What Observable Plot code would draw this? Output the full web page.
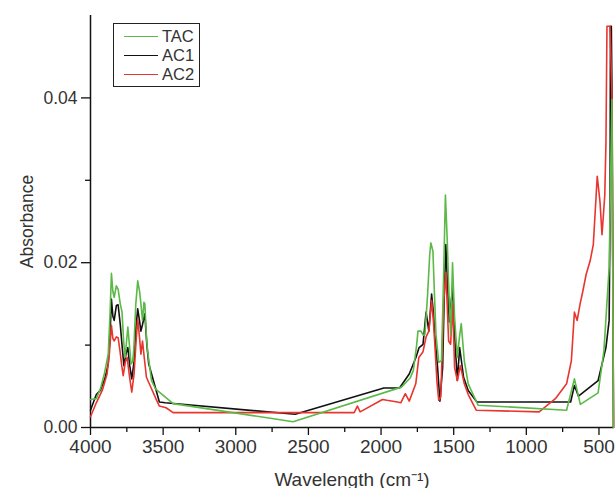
<!DOCTYPE html>
<html>
<head>
<meta charset="utf-8">
<script src="https://cdn.jsdelivr.net/npm/d3@7"></script>
<script src="https://cdn.jsdelivr.net/npm/@observablehq/plot@0.6"></script>
<style>
  html, body { margin: 0; padding: 0; background: #fff; }
  #wrap { position: relative; width: 615px; height: 488px; overflow: hidden; }
  #legend {
    position: absolute; left: 113px; top: 23px; width: 85px; height: 62px;
    border: 1.5px solid #222; background: #fff; box-sizing: content-box;
    font-family: "Liberation Sans", Arial, sans-serif; font-size: 16.5px; color: #333;
  }
  .row { position: absolute; left: 0; height: 19px; display: flex; align-items: center; }
  .sw { width: 34px; height: 0; border-top: 1.3px solid; margin-left: 10px; margin-right: 4px; }
</style>
</head>
<body>
<div id="wrap"></div>
<script>
const seriesNames = ["TAC", "AC1", "AC2"];
const seriesColors = ["#5bb947", "#111111", "#e8352e"];

const tacWave = [4000,3960,3930,3905,3878,3865,3856,3846,3837,3822,3810,3795,3783,3772,3762,3743,3732,3721,3710,3702,3688,3675,3662,3653,3642,3632,3626,3615,3607,3580,3553,3431,2605,1860,1800,1778,1755,1746,1725,1710,1698,1680,1665,1657,1643,1632,1622,1603,1584,1570,1557,1545,1535,1521,1508,1494,1475,1460,1448,1427,1400,1332,723,669,628,506,466,430,411,400];
const tacAbs  = [0.0034,0.0035,0.0048,0.0065,0.0089,0.0140,0.0187,0.0165,0.0158,0.0172,0.0168,0.0150,0.0140,0.0105,0.0085,0.0122,0.0100,0.0077,0.0080,0.0095,0.0150,0.0178,0.0165,0.0150,0.0130,0.0152,0.0150,0.0110,0.0093,0.0057,0.0047,0.0029,0.0007,0.0049,0.0060,0.0069,0.0100,0.0117,0.0117,0.0112,0.0113,0.0160,0.0210,0.0224,0.0214,0.0160,0.0113,0.0079,0.0081,0.0180,0.0282,0.0230,0.0174,0.0113,0.0200,0.0134,0.0085,0.0110,0.0126,0.0081,0.0053,0.0027,0.0021,0.0059,0.0028,0.0042,0.0093,0.0194,0.0398,0];

const ac1Wave = [4000,3960,3932,3900,3878,3866,3856,3846,3837,3822,3810,3795,3783,3770,3755,3743,3730,3716,3700,3688,3675,3663,3653,3642,3626,3612,3599,3567,3526,3485,2591,1998,1982,1873,1806,1760,1738,1711,1690,1671,1652,1640,1630,1611,1595,1576,1565,1554,1542,1530,1508,1494,1475,1459,1432,1400,1340,695,669,641,506,452,430,424,421,415,410,400];
const ac1Abs  = [0.0021,0.0040,0.0045,0.0060,0.0077,0.0110,0.0156,0.0135,0.0130,0.0148,0.0149,0.0125,0.0100,0.0075,0.0090,0.0097,0.0075,0.0059,0.0080,0.0120,0.0144,0.0130,0.0117,0.0125,0.0138,0.0100,0.0077,0.0057,0.0031,0.0030,0.0016,0.0047,0.0048,0.0048,0.0065,0.0085,0.0097,0.0101,0.0140,0.0117,0.0162,0.0140,0.0113,0.0073,0.0032,0.0073,0.0160,0.0222,0.0170,0.0128,0.0170,0.0113,0.0057,0.0097,0.0061,0.0045,0.0031,0.0031,0.0051,0.0038,0.0057,0.0097,0.0130,0.0250,0.0487,0.0487,0.0400,0];

const ac2Wave = [4000,3960,3919,3886,3870,3856,3846,3837,3822,3810,3797,3785,3775,3760,3748,3730,3716,3700,3688,3675,3663,3653,3642,3630,3615,3580,3550,3526,3480,3431,2185,2163,2144,1990,1960,1887,1864,1833,1806,1761,1740,1711,1690,1671,1652,1640,1630,1615,1603,1589,1568,1554,1545,1535,1521,1508,1500,1494,1475,1454,1427,1400,1345,912,800,723,690,669,650,630,615,588,561,539,520,512,493,479,460,452,445,424,410,400];
const ac2Abs  = [0.0013,0.0030,0.0045,0.0065,0.0090,0.0124,0.0108,0.0105,0.0110,0.0109,0.0093,0.0075,0.0063,0.0080,0.0085,0.0060,0.0043,0.0065,0.0100,0.0132,0.0110,0.0089,0.0105,0.0085,0.0061,0.0047,0.0035,0.0026,0.0024,0.0018,0.0018,0.0026,0.0019,0.0034,0.0033,0.0031,0.0030,0.0041,0.0032,0.0053,0.0085,0.0092,0.0110,0.0117,0.0154,0.0130,0.0101,0.0055,0.0033,0.0037,0.0154,0.0188,0.0150,0.0105,0.0101,0.0150,0.0110,0.0073,0.0057,0.0075,0.0053,0.0040,0.0021,0.0019,0.0035,0.0053,0.0081,0.0140,0.0130,0.0150,0.0162,0.0186,0.0202,0.0222,0.0280,0.0305,0.0274,0.0234,0.0282,0.0345,0.0487,0.0487,0.0400,0];

const xMajorTicks = [4000,3500,3000,2500,2000,1500,1000,500];
const xMinorTicks = [3750,3250,2750,2250,1750,1250,750];
const yMajorTicks = [0, 0.02, 0.04];
const yMinorTicks = [0.01, 0.03];

const toRows = (name, w, a) => w.map((x, i) => ({series: name, x, y: a[i]}));
const ac1 = toRows("AC1", ac1Wave, ac1Abs);
const ac2 = toRows("AC2", ac2Wave, ac2Abs);
const tac = toRows("TAC", tacWave, tacAbs);

const font = "'Liberation Sans', Arial, sans-serif";
const chart = Plot.plot({
  width: 615,
  height: 488,
  marginLeft: 90,
  marginRight: 2,
  marginTop: 15,
  marginBottom: 61,
  style: {fontFamily: font, fontSize: "17px", color: "#333", background: "#fff"},
  x: {domain: [4000, 400], labelArrow: "none"},
  y: {domain: [0, 0.05], labelArrow: "none"},
  color: {domain: seriesNames, range: seriesColors},
  marks: [
    Plot.axisX({ticks: xMinorTicks, tickSize: 5, tickFormat: () => "", label: null, stroke: "#111", strokeWidth: 1.3}),
    Plot.axisX({ticks: xMajorTicks, tickSize: 8, tickPadding: 4, fontSize: 19, tickFormat: d3.format("d"),
      label: "Wavelength (cm\u207B\u00B9)", labelArrow: "none", labelAnchor: "center", labelOffset: 58, stroke: "#111", strokeWidth: 1.3, fill: "#333"}),
    Plot.axisY({ticks: yMinorTicks, tickSize: 5, tickFormat: () => "", label: null, stroke: "#111", strokeWidth: 1.3}),
    Plot.axisY({ticks: yMajorTicks, tickSize: 9, tickPadding: 4, fontSize: 17.5, tickFormat: d3.format(".2f"),
      label: "Absorbance", labelArrow: "none", labelAnchor: "center", labelOffset: 70, stroke: "#111", strokeWidth: 1.3, fill: "#333"}),
    Plot.ruleY([0], {stroke: "#111", strokeWidth: 1.5}),
    Plot.ruleX([4000], {stroke: "#111", strokeWidth: 1.5}),
    Plot.line(ac1, {x: "x", y: "y", stroke: "series", strokeWidth: 1.6, curve: "linear"}),
    Plot.line(ac2, {x: "x", y: "y", stroke: "series", strokeWidth: 1.6, curve: "linear"}),
    Plot.line(tac, {x: "x", y: "y", stroke: "series", strokeWidth: 1.6, curve: "linear"})
  ]
});

const wrap = document.getElementById("wrap");
wrap.appendChild(chart);

const legend = document.createElement("div");
legend.id = "legend";
seriesNames.forEach((name, i) => {
  const row = document.createElement("div");
  row.className = "row";
  row.style.top = (3 + i * 19) + "px";
  const sw = document.createElement("span");
  sw.className = "sw";
  sw.style.borderTopColor = seriesColors[i];
  const lab = document.createElement("span");
  lab.textContent = name;
  row.appendChild(sw);
  row.appendChild(lab);
  legend.appendChild(row);
});
wrap.appendChild(legend);
</script>
</body>
</html>
